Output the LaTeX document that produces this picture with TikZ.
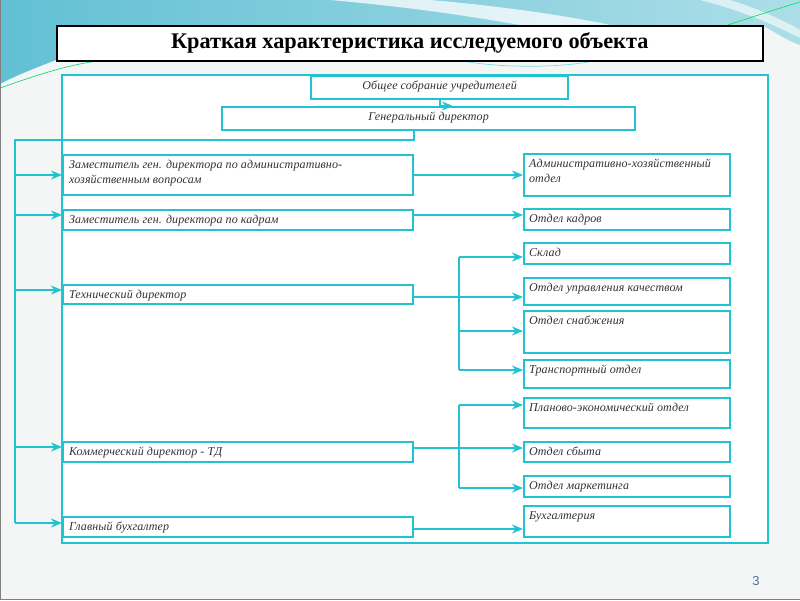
\documentclass[tikz,border=0pt]{standalone}
\usepackage{fontspec}
\setmainfont{Liberation Serif}
\newfontfamily\bxfont{Liberation Serif}[LetterSpace=1]
\newfontfamily\pgfont{Liberation Sans}
\usetikzlibrary{arrows.meta,calc}
\definecolor{tl}{RGB}{32,196,208}
\definecolor{bgc}{RGB}{244,246,246}
\definecolor{swa}{RGB}{98,192,212}
\definecolor{swb}{RGB}{172,222,232}
\definecolor{txt}{RGB}{50,50,50}
\definecolor{pgc}{RGB}{80,112,150}
\newcommand\bt[4]{\parbox[c][#2pt][t]{#1pt}{\vspace*{2.7pt}\bxfont\itshape\fontsize{12}{15}\selectfont\raggedright\leftskip=#3pt\strut#4\strut}}
\newcommand\bc[3]{\parbox[c][#2pt][t]{#1pt}{\vspace*{2.7pt}\bxfont\itshape\fontsize{12}{15}\selectfont\centering\strut#3\strut}}
\tikzset{
  bx/.style={draw=tl, line width=2.2pt, fill=white, inner sep=0pt, anchor=north west, text=txt},
  ln/.style={draw=tl, line width=2.2pt},
  arr/.style={ln, -{Stealth[length=11pt,width=9pt,inset=3.5pt]}},
}
\begin{document}
\begin{tikzpicture}[x=1pt,y=-1pt]
\useasboundingbox (0,0) rectangle (800,600);
% slide background
\fill[bgc] (0,0) rectangle (800,600);
\shade[left color=swa, right color=swb] (0,0) -- (800,0) -- (800,45)
  .. controls (785,40) and (772,30) .. (762,25) -- (56,25) -- (56,60)
  .. controls (35,68) and (15,76) .. (0,84) -- cycle;
\fill[white, opacity=0.75] (330,0) .. controls (420,8) and (480,18) .. (520,25)
  -- (610,25) .. controls (560,14) and (480,4) .. (430,0) -- cycle;
\fill[white, opacity=0.6] (700,0) .. controls (740,10) and (775,25) .. (800,38)
  -- (800,30) .. controls (780,18) and (750,6) .. (730,0) -- cycle;
\draw[tl!60!green, line width=0.7pt] (0,88) .. controls (40,74) and (70,64) .. (105,60);
\draw[tl!50!green, line width=0.7pt] (728,25) .. controls (755,16) and (780,8) .. (800,2);
\draw[tl!60, line width=0.7pt] (463,61) .. controls (500,68) and (560,68) .. (593,61);
% title
\node[draw=black, line width=1.5pt, fill=white, minimum width=706pt, minimum height=35pt,
  inner sep=0pt, anchor=north west, font=\bfseries\fontsize{22.3}{26}\selectfont] (title) at (56,25)
  {Краткая характеристика исследуемого объекта};
% outer frame
\draw[ln, fill=white] (62,75) rectangle (768,543);
% top boxes
\node[bx] (ob) at (310,75) {\bc{257}{23}{Общее собрание учредителей}};
\node[bx] (gen) at (221,106) {\bc{413}{23}{Генеральный директор}};
% left boxes
\node[bx] (zadm) at (62,154) {\bt{350}{40}{6}{Заместитель ген. директора по административно-\\хозяйственным вопросам}};
\node[bx] (zkad) at (62,209) {\bt{350}{20}{6}{Заместитель ген. директора по кадрам}};
\node[bx] (tech) at (62,284) {\bt{350}{19}{6}{Технический директор}};
\node[bx] (komm) at (62,441) {\bt{350}{20}{6}{Коммерческий директор - ТД}};
\node[bx] (glav) at (62,516) {\bt{350}{20}{6}{Главный бухгалтер}};
% right boxes
\node[bx] (adm) at (523,153) {\bt{206}{42}{5}{Административно-хозяйственный\\отдел}};
\node[bx] (okad) at (523,208) {\bt{206}{21}{5}{Отдел кадров}};
\node[bx] (sklad) at (523,242) {\bt{206}{21}{5}{Склад}};
\node[bx] (kach) at (523,277) {\bt{206}{27}{5}{Отдел управления качеством}};
\node[bx] (snab) at (523,310) {\bt{206}{42}{5}{Отдел снабжения}};
\node[bx] (trans) at (523,359) {\bt{206}{28}{5}{Транспортный отдел}};
\node[bx] (plan) at (523,397) {\bt{206}{30}{5}{Планово-экономический отдел}};
\node[bx] (sbyt) at (523,441) {\bt{206}{20}{5}{Отдел сбыта}};
\node[bx] (mark) at (523,475) {\bt{206}{21}{5}{Отдел маркетинга}};
\node[bx] (buh) at (523,505) {\bt{206}{31}{5}{Бухгалтерия}};
% connectors
\coordinate (obd) at (440,98);
\draw[arr] (obd) |- (gen.north -| 453,0);
\coordinate (bt) at (15,140);
\coordinate (bb) at (15,523);
\coordinate (br) at (459,0);
\draw[ln] (gen.south -| zadm.east) |- (bt) -- (bb);
\draw[arr] (bt |- 0,175) -- (zadm.west |- 0,175);
\draw[arr] (bt |- 0,215) -- (zkad.west |- 0,215);
\draw[arr] (bt |- 0,290) -- (tech.west |- 0,290);
\draw[arr] (bt |- 0,447) -- (komm.west |- 0,447);
\draw[arr] (bb) -- (glav.west |- bb);
% right connectors
\draw[arr] (zadm.east |- 0,175) -- (adm.west |- 0,175);
\draw[arr] (zkad.east |- 0,215) -- (okad.west |- 0,215);
\draw[arr] (tech.east |- 0,297) -- (kach.west |- 0,297);
\draw[ln] (br |- 0,257) -- (br |- 0,370);
\draw[arr] (br |- 0,257) -- (sklad.west |- 0,257);
\draw[arr] (br |- 0,331) -- (snab.west |- 0,331);
\draw[arr] (br |- 0,370) -- (trans.west |- 0,370);
\draw[arr] (komm.east |- 0,448) -- (sbyt.west |- 0,448);
\draw[ln] (br |- 0,405) -- (br |- 0,488);
\draw[arr] (br |- 0,405) -- (plan.west |- 0,405);
\draw[arr] (br |- 0,488) -- (mark.west |- 0,488);
\draw[arr] (glav.east |- 0,529) -- (buh.west |- 0,529);
% page number
\node[text=pgc, font=\pgfont\fontsize{13}{15}\selectfont] (pg) at (756,581) {3};
% slide edge
\draw[gray, line width=1.2pt] (0.6,0) -- (0.6,599.4) -- (800,599.4);
\end{tikzpicture}
\end{document}
